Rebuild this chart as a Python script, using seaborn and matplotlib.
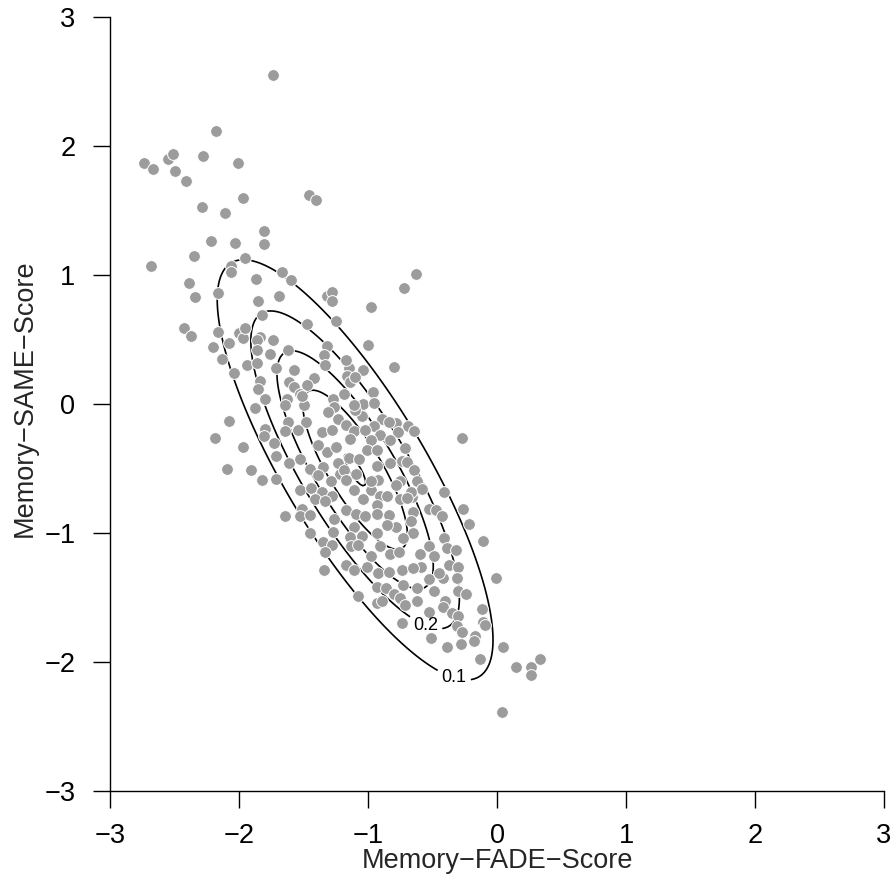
import numpy as np
import pandas as pd
import matplotlib
matplotlib.use('Agg')
import matplotlib.pyplot as plt
import seaborn as sns

# ── Data: scores ──────────────────────────────────────────────────────────────
fade_score = [
    -1.74, -2.18, -2.74, -2.67, -2.55, -2.51, -2.50, -2.41, -2.28, -2.01,
    -1.97, -2.29, -2.11, -1.46, -1.40, -1.81, -1.81, -2.22, -2.03, -2.35,
    -1.95, -2.68, -2.39, -2.34, -2.06, -2.06, -2.16, -2.43, -2.37, -2.16,
    -2.20, -2.08, -2.13, -2.00, -1.97, -1.95, -1.94, -2.04, -2.08, -2.19,
    -1.97, -2.09, -1.91,
    -1.67, -1.60, -1.87, -1.69, -1.85, -1.32, -1.28, -1.28, -0.98, -1.25,
    -1.47, -1.82, -1.84, -1.86, -1.74, -1.62, -1.86, -1.76, -1.32, -1.34,
    -1.86, -1.71, -1.33, -1.15, -1.04, -0.80, -1.57, -1.16, -1.14, -1.84,
    -1.61, -1.42, -1.47, -1.85, -1.57, -1.19, -0.96, -1.27, -1.53, -1.63,
    -1.80, -1.88, -1.50, -1.64, -1.26, -1.04, -1.31, -1.05, -1.62, -1.48,
    -1.23, -1.17, -0.89, -0.95, -0.78, -1.80, -1.64, -1.54, -1.36, -1.28,
    -1.11, -1.02, -0.91,
    -1.00, -1.17, -1.10, -1.51, -1.10,
    -0.63, -0.72, -0.84, -0.69, -0.64, -0.77, -0.27,
    -1.11, -0.95, -0.98, -1.32, -0.74, -1.35, -1.22, -0.98, -0.92, -0.75,
    -0.91, -0.75, -0.66, -1.11,
    -1.73, -1.81, -1.39, -1.25, -1.14, -1.01, -0.93, -0.83, -0.71, -1.71,
    -1.82, -1.71, -1.61, -1.53, -1.45, -1.39, -1.29, -1.23, -1.15, -1.07,
    -1.19, -1.09, -0.93, -0.83, -0.98, -1.17, -0.78, -1.53, -1.44, -1.36,
    -1.28, -1.11, -1.04, -0.93, -0.85, -1.41, -1.33, -1.51, -1.53, -1.64,
    -1.45, -1.26, -1.17, -1.09, -1.02, -0.93, -0.84, -0.78, -1.45, -1.27,
    -1.14, -1.05, -0.93, -0.85, -1.35, -1.28, -1.13, -1.08, -0.98, -0.91,
    -0.83, -0.76, -1.33, -1.17, -1.01, -0.92, -1.34, -1.11, -0.93, -1.08,
    -0.93,
    -0.70, -0.64, -0.62, -0.58, -0.67, -0.41, -0.70, -0.53, -0.47, -0.26,
    -0.43, -0.65, -0.67, -0.22, -0.65, -0.73, -0.41, -0.11, -0.53, -0.39,
    -0.32, -0.60, -0.49, -0.37, -0.30, -0.59,
    -0.01, -0.31, -0.42, -0.53, -0.45, -0.84, -0.74, -0.65, -0.73, -0.62,
    -0.49, -0.30, -0.24, -0.86, -0.80, -0.75, -0.89, -0.71, -0.62, -0.40,
    -0.42, -0.53, -0.35, -0.30, -0.12, -0.11, -0.09, -0.74, -0.31, -0.27,
    -0.17, -0.51, -0.18, -0.28, -0.39, 0.05, -0.13, 0.15, 0.26, 0.33,
    0.26, 0.04,
]
same_score = [
    2.55, 2.12, 1.87, 1.82, 1.90, 1.94, 1.81, 1.73, 1.92, 1.87,
    1.60, 1.53, 1.48, 1.62, 1.58, 1.34, 1.24, 1.26, 1.25, 1.15,
    1.13, 1.07, 0.94, 0.83, 1.07, 1.02, 0.86, 0.59, 0.53, 0.56,
    0.44, 0.47, 0.35, 0.55, 0.51, 0.59, 0.30, 0.24, -0.13, -0.26,
    -0.33, -0.50, -0.51,
    1.02, 0.96, 0.97, 0.84, 0.80, 0.84, 0.87, 0.80, 0.75, 0.64,
    0.62, 0.69, 0.52, 0.50, 0.50, 0.42, 0.42, 0.39, 0.45, 0.38,
    0.32, 0.28, 0.30, 0.28, 0.26, 0.29, 0.26, 0.22, 0.17, 0.18,
    0.17, 0.20, 0.15, 0.12, 0.13, 0.08, 0.09, 0.04, 0.08, 0.04,
    0.04, -0.03, -0.01, -0.01, -0.02, 0.00, -0.06, -0.09, -0.14, -0.14,
    -0.12, -0.16, -0.12, -0.17, -0.15, -0.19, -0.21, -0.20, -0.22, -0.20,
    -0.21, -0.20, -0.24,
    0.46, 0.34, 0.21, 0.06, -0.05,
    1.01, 0.90, -0.14, -0.17, -0.21, -0.22, -0.26,
    -0.01, 0.01, -0.28, -0.37, -0.44, -0.49, -0.54, -0.67, -0.59, -0.60,
    -0.71, -0.74, -0.72, -0.95,
    -0.30, -0.25, -0.32, -0.33, -0.27, -0.36, -0.36, -0.28, -0.34, -0.40,
    -0.59, -0.58, -0.46, -0.43, -0.50, -0.55, -0.60, -0.46, -0.42, -0.43,
    -0.51, -0.54, -0.48, -0.46, -0.60, -0.59, -0.63, -0.67, -0.65, -0.68,
    -0.71, -0.67, -0.74, -0.78, -0.71, -0.74, -0.75, -0.81, -0.87, -0.87,
    -0.86, -0.89, -0.82, -0.85, -0.87, -0.85, -0.86, -0.95, -1.00, -0.99,
    -1.03, -1.02, -1.00, -0.94, -1.07, -1.09, -1.10, -1.09, -1.18, -1.10,
    -1.16, -1.15, -1.15, -1.25, -1.26, -1.31, -1.29, -1.29, -1.42, -1.49,
    -1.54,
    -0.45, -0.51, -0.60, -0.66, -0.68, -0.68, -0.73, -0.81, -0.82, -0.81,
    -0.87, -0.84, -0.91, -0.93, -1.00, -1.04, -1.04, -1.06, -1.10, -1.12,
    -1.13, -1.16, -1.18, -1.25, -1.26, -1.26,
    -1.35, -1.35, -1.35, -1.36, -1.31, -1.30, -1.29, -1.27, -1.40, -1.43,
    -1.45, -1.45, -1.47, -1.43, -1.47, -1.50, -1.53, -1.56, -1.53, -1.53,
    -1.57, -1.61, -1.62, -1.64, -1.59, -1.69, -1.71, -1.70, -1.72, -1.77,
    -1.80, -1.81, -1.84, -1.86, -1.88, -1.88, -1.98, -2.04, -2.04, -1.98,
    -2.10, -2.39,
]

# bivariate normal used for the density contours
mu_fade, mu_same = -1.10, -0.51
sd_fade, sd_same = 0.594, 0.905
rho = -0.81
levels = [0.1, 0.2, 0.3, 0.4, 0.5]
ticks = [-3, -2, -1, 0, 1, 2, 3]

df = pd.DataFrame({'fade': fade_score, 'same': same_score})

sns.set_style('ticks')
plt.rcParams['font.family'] = ['Liberation Sans', 'DejaVu Sans']

fig = plt.figure(figsize=(8.96, 8.86), dpi=100)
ax = fig.add_axes([0.1228, 0.1072, 0.8638, 0.8736])

# density grid
gx = np.linspace(-3, 3, 301)
gy = np.linspace(-3, 3, 301)
GX, GY = np.meshgrid(gx, gy)
zx = (GX - mu_fade) / sd_fade
zy = (GY - mu_same) / sd_same
q = (zx**2 - 2 * rho * zx * zy + zy**2) / (1 - rho**2)
dens = np.exp(-q / 2) / (2 * np.pi * sd_fade * sd_same * np.sqrt(1 - rho**2))

cs = ax.contour(GX, GY, dens, levels=levels, colors='black', linewidths=1.2, zorder=2)
labels = ax.clabel(cs, levels=[0.1, 0.2], inline=True, fontsize=13, fmt='%.1f',
                   manual=[(-0.33, -2.10), (-0.55, -1.70)])
for t in labels:
    t.set_rotation(0)

sns.scatterplot(data=df, x='fade', y='same', ax=ax, color='#9c9c9c',
                edgecolor='white', linewidth=0.7, s=72, zorder=3, legend=False)

ax.set_xlim(-3, 3)
ax.set_ylim(-3, 3)
ax.set_xticks(ticks)
ax.set_yticks(ticks)
ax.set_xticklabels([f'{t}'.replace('-', '\u2212') for t in ticks])
ax.set_yticklabels([f'{t}'.replace('-', '\u2212') for t in ticks])
ax.tick_params(axis='both', direction='out', length=12, width=1.0,
               labelsize=19.5, colors='black')
ax.tick_params(axis='x', pad=11)
ax.tick_params(axis='y', pad=13)
for side in ['top', 'right']:
    ax.spines[side].set_visible(False)
for side in ['left', 'bottom']:
    ax.spines[side].set_linewidth(1.0)
    ax.spines[side].set_color('black')

ax.set_xlabel('Memory\u2212FADE\u2212Score', fontsize=19.5)
ax.set_ylabel('Memory\u2212SAME\u2212Score', fontsize=19.5)
ax.xaxis.set_label_coords(0.5, -0.0735)
ax.yaxis.set_label_coords(-0.093, 0.508)
ax.set_facecolor('white')
fig.patch.set_facecolor('white')

plt.savefig('out.png', dpi=100)
plt.close()
